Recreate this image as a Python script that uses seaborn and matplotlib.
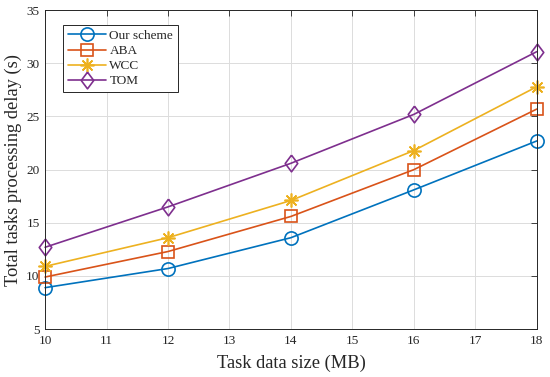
import pandas as pd
import matplotlib.pyplot as plt
import seaborn as sns

sizes = [10, 12, 14, 16, 18]
our_scheme = [8.9, 10.7, 13.6, 18.1, 22.7]
aba = [9.9, 12.3, 15.6, 20.0, 25.7]
wcc = [10.9, 13.6, 17.1, 21.8, 27.8]
tom = [12.7, 16.5, 20.6, 25.2, 31.1]

schemes = ["Our scheme", "ABA", "WCC", "TOM"]
colors = ["#0072BD", "#D95319", "#EDB120", "#7E2F8E"]
# MATLAB-like diamond (taller than wide) and asterisk
diamond = [(0, 1), (0.75, 0), (0, -1), (-0.75, 0), (0, 1)]
markers = ["o", "s", (8, 2, 0), diamond]
msizes = [9.5, 8, 10, 12]


def main():
    rows = []
    for name, vals in zip(schemes, [our_scheme, aba, wcc, tom]):
        for x, y in zip(sizes, vals):
            rows.append({"size": x, "delay": y, "scheme": name})
    df = pd.DataFrame(rows)

    sns.set_style("white")
    plt.rcParams["font.family"] = ["Liberation Serif", "DejaVu Serif"]

    fig = plt.figure(figsize=(5.5, 3.77), dpi=100)
    ax = fig.add_axes([0.082, 0.127, 0.894, 0.846])

    sns.lineplot(
        data=df,
        x="size",
        y="delay",
        hue="scheme",
        style="scheme",
        hue_order=schemes,
        style_order=schemes,
        palette=colors,
        markers=["o", "s", "^", "D"],
        dashes=False,
        linewidth=1.2,
        legend=False,
        ax=ax,
    )

    # swap in the MATLAB-style markers, hollow
    for line, c, m, ms in zip(ax.lines, colors, markers, msizes):
        line.set_marker(m)
        line.set_markerfacecolor("none")
        line.set_markeredgecolor(c)
        line.set_markeredgewidth(1.2)
        line.set_markersize(ms)
        line.set_clip_on(False)

    ax.set_xlim(10, 18)
    ax.set_ylim(5, 35)
    ax.set_xticks(range(10, 19))
    ax.set_yticks(range(5, 36, 5))
    ax.grid(True, color="#dcdcdc", linewidth=0.7)
    ax.tick_params(direction="in", top=True, right=True, length=4,
                   width=0.6, color="#262626", labelsize=9.5, pad=4)
    for sp in ax.spines.values():
        sp.set_color("#262626")
        sp.set_linewidth(0.7)

    ax.set_xlabel("Task data size (MB)", fontsize=13.3, labelpad=5.5)
    ax.set_ylabel("Total tasks processing delay (s)", fontsize=13.3, labelpad=3)

    leg = ax.legend(
        ax.lines[:4],
        schemes,
        loc="upper left",
        bbox_to_anchor=(0.037, 0.953),
        fontsize=9.5,
        frameon=True,
        fancybox=False,
        edgecolor="#262626",
        framealpha=1,
        handlelength=2.9,
        handletextpad=0.25,
        borderpad=0.35,
        borderaxespad=0,
        labelspacing=0.22,
    )
    leg.get_frame().set_linewidth(0.7)

    plt.savefig("out.png", dpi=100)
    plt.close()


if __name__ == "__main__":
    main()
